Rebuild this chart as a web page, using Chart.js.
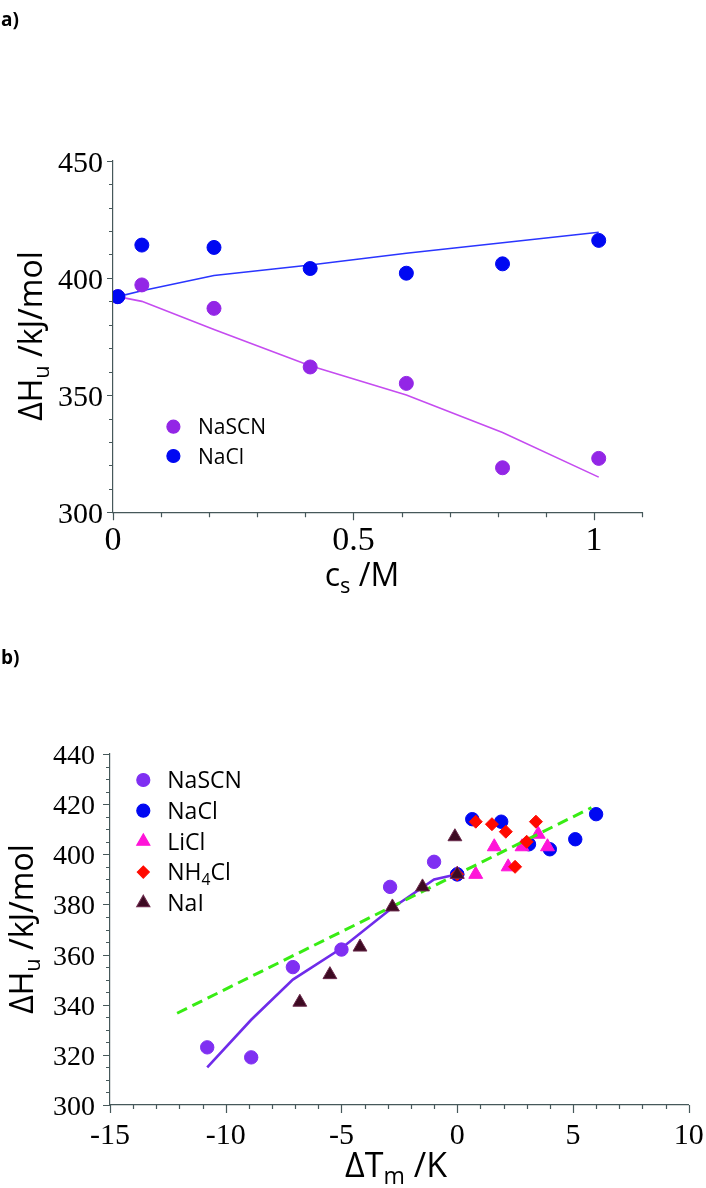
<!DOCTYPE html>
<html><head><meta charset="utf-8">
<script src="https://cdn.jsdelivr.net/npm/chart.js@4.4.1/dist/chart.umd.min.js"></script>
<style>
html,body{margin:0;padding:0;background:#fff;}
#wrap{position:relative;width:706px;height:1188px;overflow:hidden;background:#fff;}
canvas{position:absolute;left:0;}
.panel{position:absolute;left:1px;font-family:"Open Sans",sans-serif;font-weight:bold;font-size:19px;color:#000;line-height:1;}
</style></head><body>
<div id="wrap">
<canvas id="ca" width="706" height="600" style="top:0px"></canvas>
<canvas id="cb" width="706" height="568" style="top:620px"></canvas>
<div class="panel" style="top:10px">a)</div>
<div class="panel" style="top:648px">b)</div>
</div>
<script>
// ---------- Panel a) data ----------
const concA     = [0.01, 0.06, 0.21, 0.41, 0.61, 0.81, 1.01];
const hNaSCN    = [392, 397, 387, 362, 355, 319, 323];
const hNaCl     = [392, 414, 413, 404, 402, 406, 416];
const fitNaSCN  = [392, 390, 378, 362.5, 350, 334, 315];
const fitNaCl   = [392, 394.5, 401, 405.5, 410.5, 415, 419.5];
const xTicksA   = [0, 0.5, 1];
const yTicksA   = [300, 350, 400, 450];

// ---------- Panel b) data ----------
const dTNaSCN   = [0, -1.0, -2.9, -5.0, -7.1, -8.9, -10.8];
const dTNaCl    = [0, 0.65, 1.9, 3.1, 4.0, 5.1, 6.0];
const dTLiCl    = [0, 0.8, 1.6, 2.2, 2.8, 3.5, 3.9];
const hLiCl     = [392, 392, 403, 395, 403, 408, 403];
const dTNH4Cl   = [0, 0.8, 1.5, 2.1, 2.5, 3.0, 3.4];
const hNH4Cl    = [392, 413, 412, 409, 395, 405, 413];
const dTNaI     = [0, -0.1, -1.5, -2.8, -4.2, -5.5, -6.8];
const hNaI      = [392, 407, 387, 379, 363, 352, 341];
const linX      = [-12.1, 5.8];
const linY      = [336.6, 418.6];
const xTicksB   = [-15, -10, -5, 0, 5, 10];
const yTicksB   = [300, 320, 340, 360, 380, 400, 420, 440];

const pts = (xs, ys) => xs.map((x, i) => ({x: x, y: ys[i]}));
const AXIS = '#46585a';
const SANS = '"Open Sans", sans-serif';
const SERIF = '"Liberation Serif", serif';

function segWidth(ctx, segs, size) {
  let w = 0;
  segs.forEach(s => { ctx.font = (s.sub ? size * 0.68 : size) + 'px ' + SANS; w += ctx.measureText(s.t).width; });
  return w;
}
function drawRich(ctx, segs, x, y, size, align) {
  let w = segWidth(ctx, segs, size);
  let cx = align === 'center' ? x - w / 2 : x;
  ctx.textBaseline = 'alphabetic'; ctx.textAlign = 'left';
  segs.forEach(s => {
    const fs = s.sub ? size * 0.68 : size;
    ctx.font = fs + 'px ' + SANS;
    ctx.fillText(s.t, cx, y + (s.sub ? size * 0.22 : 0));
    cx += ctx.measureText(s.t).width;
  });
}

const decor = {
  id: 'decor',
  afterDraw(chart, args, o) {
    const ctx = chart.ctx, xs = chart.scales.x, ys = chart.scales.y, ca = chart.chartArea;
    ctx.save();
    // tick marks
    ctx.strokeStyle = AXIS; ctx.lineWidth = 1.2;
    ctx.beginPath();
    const nx = Math.round((o.xMax - o.xMin) / o.xMinor);
    for (let i = 0; i <= nx; i++) {
      const v = o.xMin + i * o.xMinor;
      const major = o.xMajor.some(m => Math.abs(m - v) < 1e-6);
      const px = Math.round(xs.getPixelForValue(v)) + 0.5;
      ctx.moveTo(px, ca.bottom); ctx.lineTo(px, ca.bottom + (major ? o.xMajLen : o.xMinLen));
    }
    const ny = Math.round((o.yMax - o.yMin) / o.yMinor);
    for (let i = 0; i <= ny; i++) {
      const v = o.yMin + i * o.yMinor;
      const major = o.yMajor.some(m => Math.abs(m - v) < 1e-6);
      const py = Math.round(ys.getPixelForValue(v)) + 0.5;
      ctx.moveTo(ca.left, py); ctx.lineTo(ca.left - (major ? o.yMajLen : o.yMinLen), py);
    }
    ctx.stroke();
    // tick labels (serif) from the scales' own ticks
    ctx.fillStyle = '#000';
    ctx.textBaseline = 'alphabetic';
    ctx.font = o.xLab.size + 'px ' + SERIF; ctx.textAlign = 'center';
    xs.ticks.forEach(t => ctx.fillText(String(t.value), xs.getPixelForValue(t.value), ca.bottom + o.xLab.dy));
    ctx.font = o.yLab.size + 'px ' + SERIF; ctx.textAlign = 'right';
    ys.ticks.forEach(t => ctx.fillText(String(t.value), ca.left - o.yLab.pad, ys.getPixelForValue(t.value) + o.yLab.dy));
    // titles
    ctx.save();
    ctx.translate(o.yTitle.x, o.yTitle.y);
    ctx.rotate(-Math.PI / 2);
    drawRich(ctx, o.yTitle.segs, 0, 0, o.yTitle.size, 'center');
    ctx.restore();
    drawRich(ctx, o.xTitle.segs, o.xTitle.x, o.xTitle.y, o.xTitle.size, 'center');
    // legend
    const lg = o.legend;
    lg.items.forEach((it, i) => {
      const y = lg.y0 + i * lg.dy;
      ctx.fillStyle = it.color; ctx.strokeStyle = it.border || it.color;
      Chart.helpers.drawPoint(ctx, {pointStyle: it.style, radius: it.r, rotation: 0, borderWidth: 1}, lg.mx, y);
      ctx.fillStyle = '#000';
      drawRich(ctx, it.segs, lg.tx, y + lg.size * 0.36, lg.size, 'left');
    });
    ctx.restore();
  }
};

function baseScales(xmin, xmax, xt, ymin, ymax, yt, yWidth, xHeight) {
  return {
    x: {
      type: 'linear', min: xmin, max: xmax,
      afterBuildTicks: s => { s.ticks = xt.map(v => ({value: v})); },
      afterFit: s => { s.height = xHeight; },
      grid: {display: false, drawTicks: false},
      border: {display: true, color: AXIS, width: 1.2},
      ticks: {display: false}
    },
    y: {
      type: 'linear', min: ymin, max: ymax,
      afterBuildTicks: s => { s.ticks = yt.map(v => ({value: v})); },
      afterFit: s => { s.width = yWidth; },
      grid: {display: false, drawTicks: false},
      border: {display: true, color: AXIS, width: 1.2},
      ticks: {display: false}
    }
  };
}

// ---------- Chart a ----------
const cNaSCN_a = '#9326e6', cNaCl = '#0008f2';
new Chart(document.getElementById('ca'), {
  type: 'scatter',
  data: {datasets: [
    {label: 'NaCl', data: pts(concA, hNaCl), pointStyle: 'circle', pointRadius: 7, backgroundColor: cNaCl, borderColor: cNaCl, borderWidth: 1, order: 0},
    {label: 'NaSCN', data: pts(concA, hNaSCN), pointStyle: 'circle', pointRadius: 7, backgroundColor: cNaSCN_a, borderColor: cNaSCN_a, borderWidth: 1, order: 1},
    {label: 'NaCl fit', data: pts(concA, fitNaCl), showLine: true, pointRadius: 0, borderColor: '#2a35ff', borderWidth: 1.6, order: 2},
    {label: 'NaSCN fit', data: pts(concA, fitNaSCN), showLine: true, pointRadius: 0, borderColor: '#c54cf0', borderWidth: 1.6, order: 3}
  ]},
  options: {
    responsive: false, animation: false, devicePixelRatio: 1,
    layout: {padding: {left: 0, top: 160.7, right: 64, bottom: 0}},
    scales: baseScales(0, 1.1, xTicksA, 300, 450, yTicksA, 113, 600 - 512.3),
    plugins: {
      legend: {display: false}, tooltip: {enabled: false},
      decor: {
        xMin: 0, xMax: 1.1, xMinor: 0.1, xMajor: xTicksA, xMajLen: 8, xMinLen: 5,
        yMin: 300, yMax: 450, yMinor: 10, yMajor: yTicksA, yMajLen: 6, yMinLen: 4,
        xLab: {size: 34, dy: 38}, yLab: {size: 30, pad: 10, dy: 11},
        yTitle: {x: 42, y: 336, size: 32, segs: [{t: '\u0394H'}, {t: 'u', sub: true}, {t: ' /kJ/mol'}]},
        xTitle: {x: 362, y: 586, size: 32, segs: [{t: 'c'}, {t: 's', sub: true}, {t: ' /M'}]},
        legend: {mx: 173.4, tx: 198, y0: 426.7, dy: 29.3, size: 21, items: [
          {segs: [{t: 'NaSCN'}], style: 'circle', r: 6.5, color: cNaSCN_a},
          {segs: [{t: 'NaCl'}], style: 'circle', r: 6.5, color: cNaCl}
        ]}
      }
    }
  },
  plugins: [decor]
});

// ---------- Chart b ----------
const cNaSCN_b = '#7f2ff2', cLiCl = '#ff14d8', cNH4 = '#ff0a00', cNaI = '#3d0a22', cNaIb = '#6b2a4c';
new Chart(document.getElementById('cb'), {
  type: 'scatter',
  data: {datasets: [
    {label: 'NaI', data: pts(dTNaI, hNaI), pointStyle: 'triangle', pointRadius: 8, backgroundColor: cNaI, borderColor: cNaIb, borderWidth: 1, order: 0},
    {label: 'NH4Cl', data: pts(dTNH4Cl, hNH4Cl), pointStyle: 'rectRot', pointRadius: 6.5, backgroundColor: cNH4, borderColor: cNH4, borderWidth: 1, order: 1},
    {label: 'linear', data: pts(linX, linY), showLine: true, pointRadius: 0, borderColor: '#38ec14', borderWidth: 3, borderDash: [11, 6], order: 2},
    {label: 'LiCl', data: pts(dTLiCl, hLiCl), pointStyle: 'triangle', pointRadius: 8, backgroundColor: cLiCl, borderColor: cLiCl, borderWidth: 1, order: 3},
    {label: 'NaCl', data: pts(dTNaCl, hNaCl), pointStyle: 'circle', pointRadius: 6.7, backgroundColor: cNaCl, borderColor: cNaCl, borderWidth: 1, order: 4},
    {label: 'NaSCN', data: pts(dTNaSCN, hNaSCN), pointStyle: 'circle', pointRadius: 6.7, backgroundColor: cNaSCN_b, borderColor: cNaSCN_b, borderWidth: 1, order: 5},
    {label: 'NaSCN fit', data: pts(dTNaSCN, fitNaSCN), showLine: true, pointRadius: 0, borderColor: '#6f2cea', borderWidth: 2.6, order: 6}
  ]},
  options: {
    responsive: false, animation: false, devicePixelRatio: 1,
    layout: {padding: {left: 0, top: 134, right: 17.3, bottom: 0}},
    scales: baseScales(-15, 10, xTicksB, 300, 440, yTicksB, 110, 568 - 485),
    plugins: {
      legend: {display: false}, tooltip: {enabled: false},
      decor: {
        xMin: -15, xMax: 10, xMinor: 1, xMajor: xTicksB, xMajLen: 8, xMinLen: 4,
        yMin: 300, yMax: 440, yMinor: 5, yMajor: yTicksB, yMajLen: 7, yMinLen: 4,
        xLab: {size: 30, dy: 39}, yLab: {size: 28, pad: 15, dy: 10},
        yTitle: {x: 33, y: 309, size: 32, segs: [{t: '\u0394H'}, {t: 'u', sub: true}, {t: ' /kJ/mol'}]},
        xTitle: {x: 396, y: 557, size: 34, segs: [{t: '\u0394T'}, {t: 'm', sub: true}, {t: ' /K'}]},
        legend: {mx: 143.3, tx: 167.3, y0: 160, dy: 30.7, size: 23, items: [
          {segs: [{t: 'NaSCN'}], style: 'circle', r: 6.5, color: cNaSCN_b},
          {segs: [{t: 'NaCl'}], style: 'circle', r: 6.5, color: cNaCl},
          {segs: [{t: 'LiCl'}], style: 'triangle', r: 7.5, color: cLiCl},
          {segs: [{t: 'NH'}, {t: '4', sub: true}, {t: 'Cl'}], style: 'rectRot', r: 6, color: cNH4},
          {segs: [{t: 'NaI'}], style: 'triangle', r: 7.5, color: cNaI, border: cNaIb}
        ]}
      }
    }
  },
  plugins: [decor]
});
</script>
</body></html>
